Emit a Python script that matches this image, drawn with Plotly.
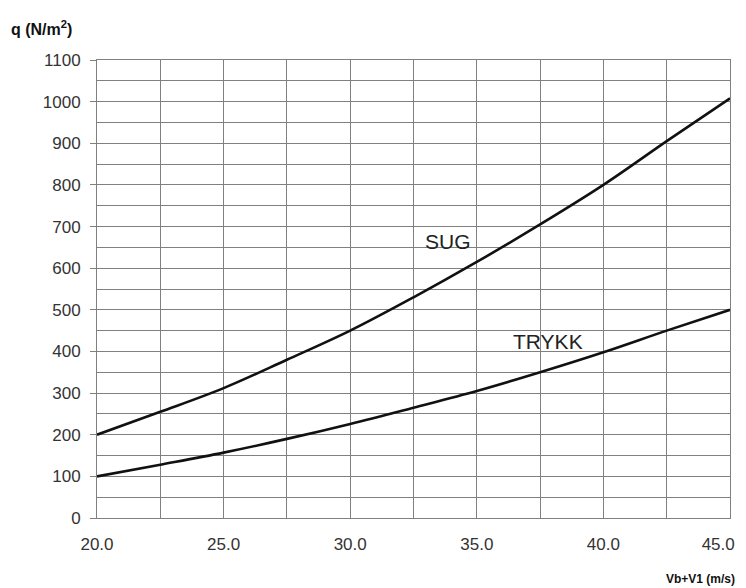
import plotly.graph_objects as go

speed = [20.0, 22.5, 25.0, 27.5, 30.0, 32.5, 35.0, 37.5, 40.0, 42.5, 45.0]
sug = [200, 255, 312, 380, 450, 530, 615, 705, 800, 905, 1008]
trykk = [100, 128, 157, 190, 226, 265, 305, 350, 398, 450, 500]
x_ticks = [20, 25, 30, 35, 40, 45]
x_tick_labels = ["20.0", "25.0", "30.0", "35.0", "40.0", "45.0"]
y_ticks = list(range(0, 1101, 100))

fig = go.Figure()
for name, vals in [("SUG", sug), ("TRYKK", trykk)]:
    fig.add_trace(go.Scatter(x=speed, y=vals, mode="lines", name=name,
                             line=dict(color="#111111", width=2.6, shape="spline"),
                             showlegend=False))

# page body has an 8px margin: figure is sized to fit inside the 746x588 window
W, H = 738, 580
L, R, T, B = 89, 16, 52, 70
pw = W - L - R
ph = H - T - B


def px(xp):
    return (xp - 97) / pw


def py(yp):
    return (518 - yp) / ph


# last label sits at the page edge: pad it so it stays fully visible
tick_text = x_tick_labels[:-1] + [x_tick_labels[-1] + "\u00a0" * 5]

grid = "#808080"
fig.update_layout(
    width=W, height=H,
    margin=dict(l=L, r=R, t=T, b=B, autoexpand=False),
    paper_bgcolor="white", plot_bgcolor="white",
    font=dict(family="Liberation Sans, Arial, sans-serif", size=17, color="#333333"),
    xaxis=dict(range=[20, 45], tickvals=x_ticks, ticktext=tick_text,
               showgrid=True, gridcolor=grid, gridwidth=1,
               minor=dict(dtick=2.5, showgrid=True, gridcolor=grid, gridwidth=1),
               showline=True, linecolor=grid, linewidth=1, mirror=True,
               ticks="outside", ticklen=11, tickcolor="rgba(0,0,0,0)",
               ticklabeloverflow="allow", automargin=False,
               zeroline=False, fixedrange=True),
    yaxis=dict(range=[0, 1100], tickvals=y_ticks,
               showgrid=True, gridcolor=grid, gridwidth=1,
               minor=dict(dtick=50, showgrid=True, gridcolor=grid, gridwidth=1),
               showline=True, linecolor=grid, linewidth=1, mirror=True,
               ticks="outside", ticklen=6, tickcolor=grid, ticklabelstandoff=6,
               automargin=False,
               zeroline=False, fixedrange=True),
    annotations=[
        dict(x=33.86, y=663, xref="x", yref="y", text="SUG", showarrow=False,
             font=dict(size=21, color="#222222")),
        dict(x=37.81, y=425, xref="x", yref="y", text="TRYKK", showarrow=False,
             font=dict(size=21, color="#222222")),
        dict(x=px(9), y=py(28), xref="paper", yref="paper", xanchor="left", yanchor="middle",
             text="<b>q (N/m<sup>2</sup>)</b>", showarrow=False,
             font=dict(size=16, color="#111111")),
        dict(x=px(737), y=py(579), xref="paper", yref="paper", xanchor="right", yanchor="middle",
             text="<b>Vb+V1 (m/s)</b>", showarrow=False,
             font=dict(size=12, color="#111111")),
    ],
)

fig.write_html("out.html")
